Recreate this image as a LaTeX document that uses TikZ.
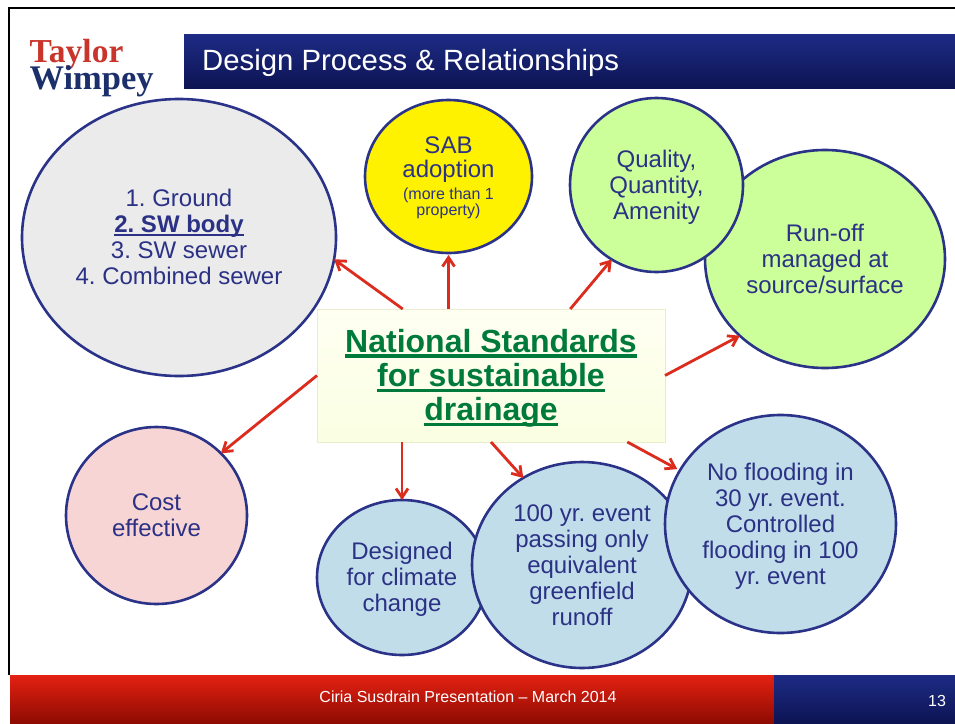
\documentclass[tikz,border=0pt]{standalone}
\usepackage{fontspec}
\setmainfont{Liberation Sans}
\newfontfamily\logofont{Liberation Serif}
\usetikzlibrary{shapes.geometric,arrows.meta}
\definecolor{navy}{HTML}{2A3388}
\definecolor{txtnavy}{HTML}{2B3185}
\definecolor{arrowred}{HTML}{DC2C1E}
\definecolor{stdgreen}{HTML}{007A3A}
\definecolor{barTop}{HTML}{1D2B85}
\definecolor{barBot}{HTML}{0D1453}
\definecolor{redTop}{HTML}{E42112}
\definecolor{redBot}{HTML}{8E0B02}
\definecolor{logored}{HTML}{C9352B}
\definecolor{logoblue}{HTML}{1B2F6B}
\newlength\ulwidth
\newcommand\barul[1]{\settowidth\ulwidth{#1}\rlap{\rule[-6pt]{\ulwidth}{3.6pt}}#1}
\newcommand\thinul[1]{\settowidth\ulwidth{#1}\rlap{\rule[-3.4pt]{\ulwidth}{2.2pt}}#1}
\newcommand\smalltxt[1]{\fontsize{16}{17}\selectfont #1}
\newcommand\hst{\rule{0pt}{22pt}}
\newcommand\hsb{\rule[-5.5pt]{0pt}{5.5pt}}
\tikzset{
  bubble/.style={ellipse,draw=navy,line width=2.6pt,inner sep=0pt,outer sep=0pt,align=center,
    text=txtnavy,font=\frenchspacing\fontsize{24}{26}\selectfont},
  conn/.style={draw=arrowred,line width=2.8pt,-{Straight Barb[length=9pt,width=12pt,line width=2.8pt]}},
  wtext/.style={text=white,inner sep=0pt}
}
\begin{document}
\begin{tikzpicture}[x=1pt,y=-1pt]
\useasboundingbox (0,0) rectangle (955,723);
\fill[white] (0,0) rectangle (955,723);
% slide frame
\draw[line width=2.6pt,black] (9,675) -- (9,8) -- (955,8);
% title and footer bars
\shade[top color=barTop,bottom color=barBot] (184,34) rectangle (955,88);
\shade[top color=redTop,bottom color=redBot] (10,675) rectangle (774,723);
\shade[top color=barTop,bottom color=barBot] (774,675) rectangle (955,723);
\node[wtext,anchor=base west,font=\fontsize{29.3}{32}\selectfont] (title) at (202,70) {Design Process \& Relationships};
\node[wtext,font=\fontsize{16}{18}\selectfont] (foot) at (468,697) {Ciria Susdrain Presentation – March 2014};
\node[wtext,font=\fontsize{16}{18}\selectfont] (num) at (937,701) {13};
% logo
\node[inner sep=0pt,anchor=north west,align=left,font=\logofont\bfseries] (logo) at (29.5,39.5)
  {\fontsize{33.5}{24}\selectfont\textcolor{logored}{Taylor}\\[-5.5pt]\fontsize{34.5}{24}\selectfont\textcolor{logoblue}{Wimpey}};
% bubbles
\node[bubble,fill=black!8,minimum width=314pt,minimum height=277pt] (ground) at (179,237.5)
  {\hst 1. Ground\\\textbf{\thinul{2. SW body}}\\3. SW sewer\\4. Combined sewer\hsb};
\node[bubble,fill=yellow,minimum width=167pt,minimum height=153pt] (sab) at (448.5,176.5)
  {\hst SAB\\[-2pt]adoption\\[-4pt]\smalltxt{(more than 1}\\[-10pt]\smalltxt{property)}\hsb};
\node[bubble,fill={rgb,255:red,204;green,255;blue,153},minimum width=240pt,minimum height=218pt] (runoff) at (825,259)
  {\hst Run-off\\managed at\\source/surface\hsb};
\node[bubble,fill={rgb,255:red,204;green,255;blue,153},minimum width=173pt,minimum height=174pt] (quality) at (656.5,185)
  {\hst Quality,\\Quantity,\\Amenity\hsb};
\node[bubble,fill={rgb,255:red,248;green,213;blue,213},minimum width=181pt,minimum height=177pt] (cost) at (156.5,515.5)
  {\hst Cost\\effective\hsb};
\node[bubble,fill={rgb,255:red,193;green,221;blue,234},minimum width=170pt,minimum height=155pt] (climate) at (402,577.5)
  {\hst Designed\\for climate\\change\hsb};
\node[bubble,fill={rgb,255:red,193;green,221;blue,234},minimum width=220pt,minimum height=206pt] (hundred) at (582,565)
  {\hst 100 yr. event\\passing only\\equivalent\\greenfield\\runoff\hsb};
\node[bubble,fill={rgb,255:red,193;green,221;blue,234},minimum width=231pt,minimum height=218pt] (thirty) at (780.5,524)
  {\hst No flooding in\\30 yr. event.\\Controlled\\flooding in 100\\yr. event\hsb};
% central box
\node[rectangle,draw={rgb,255:red,234;green,237;blue,204},line width=1pt,
  top color={rgb,255:red,255;green,255;blue,242},bottom color={rgb,255:red,250;green,255;blue,226},
  minimum width=348pt,minimum height=133pt,inner sep=0pt,outer sep=0pt] (main) at (491,375.5) {};
\node[inner sep=0pt,align=center,text=stdgreen,font=\bfseries\fontsize{32}{34.2}\selectfont] (mainlabel) at (491,378)
  {\barul{National Standards}\\\barul{for sustainable}\\\barul{drainage}};
% connectors
\draw[conn] (main.143.2) -- (ground.-8.4);
\draw[conn,shorten >=2pt] (sab.south |- main.north) -- (sab.south);
\draw[conn] (main.40.1) -- (quality.239);
\draw[conn] (main.east) -- (runoff.222);
\draw[conn,shorten >=3pt] (main.-26.7) -- (thirty.152);
\draw[conn] (main.south) -- (hundred.124);
\draw[conn] (climate.north |- main.south) -- (climate.north);
\draw[conn] (main.west) -- (cost.44.5);
\end{tikzpicture}
\end{document}
